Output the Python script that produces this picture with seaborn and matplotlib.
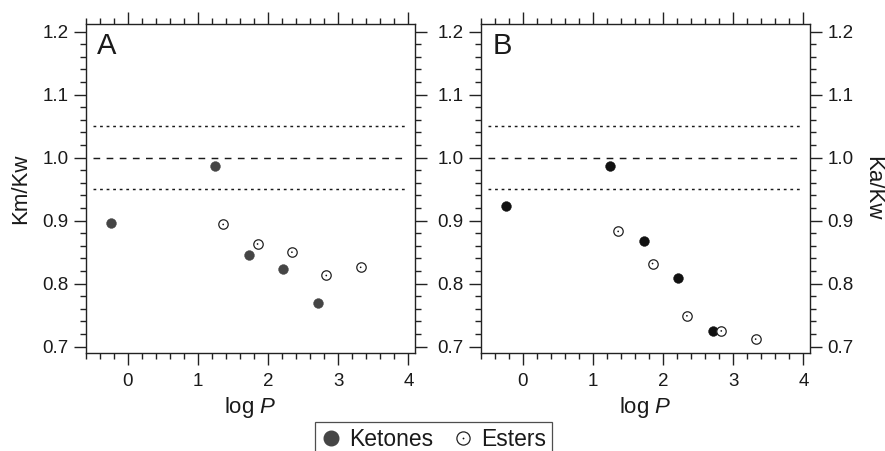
import numpy as np
import pandas as pd
import matplotlib
matplotlib.use("Agg")
import matplotlib.pyplot as plt
import seaborn as sns
from matplotlib.lines import Line2D
from matplotlib.legend_handler import HandlerTuple
from matplotlib.ticker import MultipleLocator

# ---------------- data ----------------
ketone_logp = [-0.24, 1.24, 1.73, 2.22, 2.71]
ester_logp = [1.36, 1.85, 2.34, 2.83, 3.32]

km_kw_ketones = [0.897, 0.987, 0.846, 0.823, 0.769]
km_kw_esters = [0.894, 0.863, 0.850, 0.813, 0.826]

ka_kw_ketones = [0.923, 0.987, 0.867, 0.809, 0.725]
ka_kw_esters = [0.883, 0.832, 0.749, 0.725, 0.712]

panel_labels = ["A", "B"]
y_labels = ["Km/Kw", "Ka/Kw"]
ref_levels = [0.95, 1.00, 1.05]
group_names = ["Ketones", "Esters"]

# ---------------- style ----------------
sns.set_style("ticks")
plt.rcParams["font.family"] = ["Liberation Sans", "DejaVu Sans"]
plt.rcParams["mathtext.fontset"] = "custom"
plt.rcParams["mathtext.rm"] = "Liberation Sans"
plt.rcParams["mathtext.it"] = "Liberation Sans:italic"
TXT = "#1a1a1a"

fig = plt.figure(figsize=(8.85, 4.51), dpi=100)
W, H = 885.0, 451.0
axA = fig.add_axes([85.7 / W, 1 - 353.3 / H, 329.3 / W, 329.3 / H])
axB = fig.add_axes([480.7 / W, 1 - 353.3 / H, 329.3 / W, 329.3 / H])

panels = [
    (axA, km_kw_ketones, km_kw_esters, "#454545"),
    (axB, ka_kw_ketones, ka_kw_esters, "#111111"),
]

for i, (ax, kv, ev, kcol) in enumerate(panels):
    dk = pd.DataFrame({"logP": ketone_logp, "ratio": kv})
    de = pd.DataFrame({"logP": ester_logp, "ratio": ev})
    # reference lines
    ax.hlines(ref_levels[1], -0.49, 4.0, colors="#1a1a1a", linewidth=1.05,
              linestyles=(0, (4.6, 4.4)), zorder=1)
    for lv in (ref_levels[0], ref_levels[2]):
        ax.hlines(lv, -0.49, 4.0, colors="#1a1a1a", linewidth=1.05,
                  linestyles=(0, (1.9, 2.6)), zorder=1)
    sns.scatterplot(data=dk, x="logP", y="ratio", ax=ax, color=kcol, s=50,
                    edgecolor=kcol, linewidth=0.3, legend=False, zorder=3)
    sns.scatterplot(data=de, x="logP", y="ratio", ax=ax, color="white", s=46,
                    edgecolor="#222222", linewidth=0.9, legend=False, zorder=3)
    sns.scatterplot(data=de, x="logP", y="ratio", ax=ax, color="#111111", s=1.5,
                    edgecolor="none", linewidth=0, legend=False, zorder=4)

    ax.set_xlim(-0.6, 4.095)
    ax.set_ylim(0.6895, 1.2122)
    ax.xaxis.set_major_locator(MultipleLocator(1))
    ax.xaxis.set_minor_locator(MultipleLocator(0.2))
    ax.yaxis.set_major_locator(MultipleLocator(0.1))
    ax.yaxis.set_minor_locator(MultipleLocator(0.02))
    ax.yaxis.set_major_formatter(matplotlib.ticker.FormatStrFormatter("%.1f"))
    ax.tick_params(which="both", direction="out", top=True, right=True,
                   color="#222222", width=1.0)
    ax.tick_params(which="major", length=8.5)
    ax.tick_params(which="minor", length=4.3)
    ax.tick_params(axis="x", which="major", labelsize=13.5, pad=6.0, labelcolor=TXT)
    ax.tick_params(axis="y", which="major", labelsize=13.5, pad=4.0, labelcolor=TXT)
    for sp in ax.spines.values():
        sp.set_linewidth(1.0)
        sp.set_color("#222222")

    ax.set_xlabel(r"log $P$", fontsize=16, color=TXT)
    ax.xaxis.set_label_coords(0.5, -0.166)
    ax.xaxis.label.set_va("center")

    ax.text(0.035, 0.975, panel_labels[i], transform=ax.transAxes,
            ha="left", va="top", fontsize=21, color=TXT)

axA.tick_params(axis="y", labelleft=True, labelright=False)
axA.set_ylabel(y_labels[0], fontsize=16, color=TXT)
axA.yaxis.set_label_coords(-0.197, 0.5)
axA.yaxis.label.set_va("center")

axB.tick_params(axis="y", labelleft=True, labelright=True)
axB.yaxis.set_label_position("right")
axB.set_ylabel(y_labels[1], fontsize=16, color=TXT, rotation=-90)
axB.yaxis.set_label_coords(1.19, 0.5)
axB.yaxis.label.set_va("center")

# ---------------- legend ----------------
h_ket = Line2D([], [], linestyle="none", marker="o", markersize=10.5,
               markerfacecolor="#454545", markeredgecolor="#454545")
h_est = Line2D([], [], linestyle="none", marker="o", markersize=9.5,
               markerfacecolor="white", markeredgecolor="#222222", markeredgewidth=0.9)
h_dot = Line2D([], [], linestyle="none", marker="o", markersize=1.3,
               markerfacecolor="#111111", markeredgecolor="none")
leg = fig.legend([h_ket, (h_est, h_dot)], group_names,
                 handler_map={tuple: HandlerTuple(ndivide=1, pad=0)},
                 loc="upper center", bbox_to_anchor=(0.4896, 0.0636),
                 bbox_transform=fig.transFigure, ncol=2, fontsize=16.5,
                 frameon=True, fancybox=False, handlelength=0.9,
                 handletextpad=0.35, columnspacing=0.85, borderpad=0.25,
                 borderaxespad=0)
leg.get_frame().set_edgecolor("#222222")
leg.get_frame().set_linewidth(0.9)
for t in leg.get_texts():
    t.set_color(TXT)

fig.savefig("out.png", dpi=100)
